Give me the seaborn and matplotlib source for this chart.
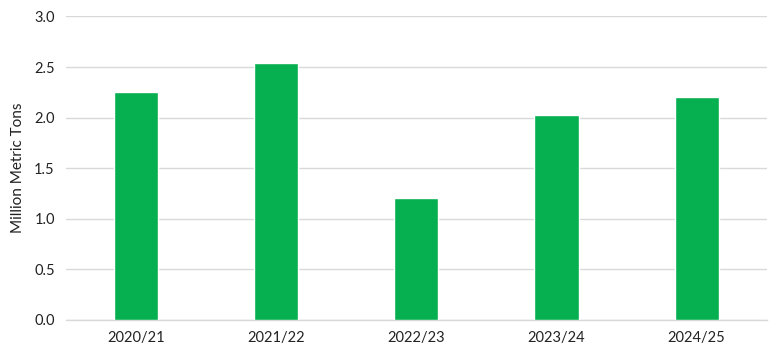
import matplotlib
matplotlib.use("Agg")
import matplotlib.pyplot as plt
import seaborn as sns
import pandas as pd

categories = ["2020/21", "2021/22", "2022/23", "2023/24", "2024/25"]
values = [2.25, 2.54, 1.20, 2.02, 2.20]
yticks = [0.0, 0.5, 1.0, 1.5, 2.0, 2.5, 3.0]

sns.set_theme(style="white")
plt.rcParams['font.family'] = ['Lato', 'DejaVu Sans']

df = pd.DataFrame({"season": categories, "value": values})

fig = plt.figure(figsize=(7.76, 3.51), dpi=100)
ax = fig.add_axes([0.085, 0.0897, 0.903, 0.8633])
sns.barplot(data=df, x="season", y="value", color="#06B050", saturation=1,
            width=0.315, ax=ax, zorder=3)
ax.set_ylim(0, 3.0)
ax.set_xlim(-0.5, 4.5)
ax.set_yticks(yticks)
ax.set_yticklabels([f"{t:.1f}" for t in yticks])
ax.yaxis.grid(True, color="#D9D9D9", linewidth=1)
ax.set_axisbelow(True)
for s in ["top", "right", "left"]:
    ax.spines[s].set_visible(False)
ax.spines["bottom"].set_color("#D9D9D9")
ax.spines["bottom"].set_linewidth(1)
ax.tick_params(axis="both", length=0, labelsize=10.5, colors="#222222")
ax.tick_params(axis="y", pad=8)
ax.tick_params(axis="x", pad=8)
ax.set_xlabel("")
ax.set_ylabel("Million Metric Tons", fontsize=11, color="#222222", labelpad=7)

fig.savefig("out.png", dpi=100)
